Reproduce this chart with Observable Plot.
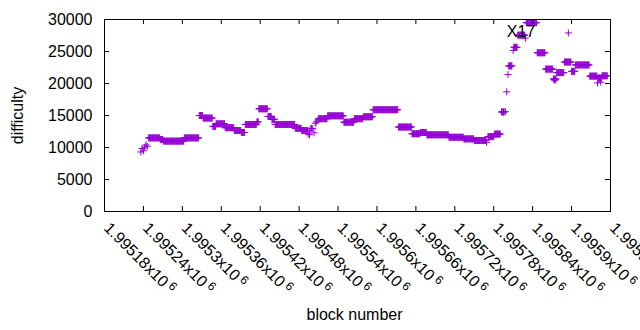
<!DOCTYPE html>
<html>
<head>
<meta charset="utf-8">
<script src="https://cdn.jsdelivr.net/npm/d3@7"></script>
<script src="https://cdn.jsdelivr.net/npm/@observablehq/plot@0.6"></script>
<style>
  html, body { margin: 0; padding: 0; background: #fff; }
  #chart { width: 640px; height: 330px; overflow: hidden; }
</style>
</head>
<body>
<div id="chart"></div>
<script>
// ---- data ----
// runs of consecutive blocks sharing one difficulty value
const runStart = [1995248,1995266,1995271,1995303,1995326,1995332,1995347,1995352,1995366,1995380,1995391,1995397,1995415,1995418,1995432,1995438,1995443,1995474,1995484,1995510,1995524,1995549,1995565,1995579,1995594,1995633,1995654,1995667,1995677,1995711,1995734,1995750,1995771,1995781,1995792,1995803,1995811,1995817,1995830,1995847,1995860,1995872,1995877,1995889,1995900,1995906,1995928,1995941,1995947];
const runEnd   = [1995265,1995270,1995302,1995325,1995331,1995346,1995351,1995365,1995379,1995390,1995396,1995414,1995417,1995431,1995437,1995442,1995473,1995483,1995493,1995523,1995548,1995564,1995578,1995593,1995632,1995653,1995666,1995676,1995710,1995733,1995749,1995768,1995780,1995790,1995796,1995808,1995816,1995828,1995846,1995859,1995871,1995876,1995888,1995899,1995905,1995927,1995939,1995946,1995955];
const runValue = [11500,11250,11000,11500,15000,14600,13300,13700,13100,12650,12350,13600,14000,16050,14850,14400,13600,13000,12650,14500,14950,13950,14500,14800,15900,13200,12150,12350,11980,11600,11350,11100,11700,12100,15550,22750,25650,27550,29500,24800,22250,20700,21700,23350,21900,22900,21150,20850,21200];
// isolated blocks
const ptBlock = [1995236,1995238,1995240,1995242,1995244,1995246,1995494,1995496,1995497,1995499,1995501,1995503,1995505,1995507,1995509,1995769,1995798,1995800,1995802,1995810,1995829,1995874,1995895,1995940,1995945];
const ptValue = [9300,9850,9500,10050,10400,10200,12100,12000,12900,13000,12950,12300,13800,14000,14300,10800,15600,18700,21400,25150,27100,20500,27900,20100,20200];

const xTicks = [1995180,1995240,1995300,1995360,1995420,1995480,1995540,1995600,1995660,1995720,1995780,1995840,1995900,1995960];
const xTickMantissa = ["1.99518","1.99524","1.9953","1.99536","1.99542","1.99548","1.99554","1.9956","1.99566","1.99572","1.99578","1.99584","1.9959","1.99596"];
const xTickExponent = "6";
const yTicks = [0,5000,10000,15000,20000,25000,30000];
const annotation = [{block: 1995800, value: 28000, text: "X17"}];
const xLabel = "block number";
const yLabel = "difficulty";

// ---- build table ----
const points = [];
runStart.forEach((s, i) => { for (let b = s; b <= runEnd[i]; b++) points.push({block: b, value: runValue[i]}); });
ptBlock.forEach((b, i) => points.push({block: b, value: ptValue[i]}));

const plusSymbol = {
  draw(ctx, size) {
    const s = Math.sqrt(size / Math.PI);
    ctx.moveTo(-s, 0); ctx.lineTo(s, 0);
    ctx.moveTo(0, -s); ctx.lineTo(0, s);
  }
};

const W = 640, H = 330, ML = 104, MR = 30, MT = 19, MB = 119;
const FW = W - ML - MR, FH = H - MT - MB, TL = 5;
const font = "'Liberation Sans', Arial, sans-serif";
const tickSuffix = "x10";

const chart = Plot.plot({
  width: W, height: H,
  marginLeft: ML, marginRight: MR, marginTop: MT, marginBottom: MB,
  style: {fontFamily: font, fontSize: "16px", background: "#fff", color: "#000"},
  x: {domain: [1995180, 1995960], axis: null},
  y: {domain: [0, 30000], axis: null},
  marks: [
    Plot.dot(points, {x: "block", y: "value", symbol: plusSymbol, r: 3.5, fill: "none", stroke: "#9400d3", strokeWidth: 1}),
    Plot.text(annotation, {x: "block", y: "value", text: "text", textAnchor: "start", lineAnchor: "middle", fontSize: 16, fill: "#000"}),
    // inward ticks
    Plot.tickX(xTicks, {x: d => d, insetTop: FH - TL, stroke: "#000"}),
    Plot.tickX(xTicks, {x: d => d, insetBottom: FH - TL, stroke: "#000"}),
    Plot.tickY(yTicks, {y: d => d, insetRight: FW - TL, stroke: "#000"}),
    Plot.tickY(yTicks, {y: d => d, insetLeft: FW - TL, stroke: "#000"}),
    Plot.frame({stroke: "#000", strokeWidth: 1}),
    // y tick labels
    Plot.text(yTicks, {y: d => d, text: d => String(d), frameAnchor: "left", textAnchor: "end", lineAnchor: "middle", dx: -12, fontSize: 16, fill: "#000"}),
    // x tick labels (rotated)
    Plot.text(xTicks, {x: d => d, text: (d, i) => xTickMantissa[i] + tickSuffix, frameAnchor: "bottom", rotate: 45, textAnchor: "start", lineAnchor: "bottom", dx: -1.5, dy: 17.5, fontSize: 16, fill: "#000"}),
    // axis titles
    Plot.text([xLabel], {text: d => d, frameAnchor: "bottom", textAnchor: "middle", lineAnchor: "bottom", dx: -3, dy: 108, fontSize: 16, fill: "#000"}),
    Plot.text([yLabel], {text: d => d, frameAnchor: "left", rotate: -90, textAnchor: "middle", lineAnchor: "middle", dx: -87, fontSize: 16, fill: "#000"})
  ]
});

chart.querySelectorAll("text").forEach(t => {
  if (t.textContent.endsWith(tickSuffix) && t.textContent.startsWith("1.99")) {
    const ts = document.createElementNS("http://www.w3.org/2000/svg", "tspan");
    ts.setAttribute("dx", "3");
    ts.setAttribute("dy", "-5");
    ts.setAttribute("font-size", "12");
    ts.textContent = xTickExponent;
    t.appendChild(ts);
  }
});

document.getElementById("chart").appendChild(chart);
</script>
</body>
</html>
